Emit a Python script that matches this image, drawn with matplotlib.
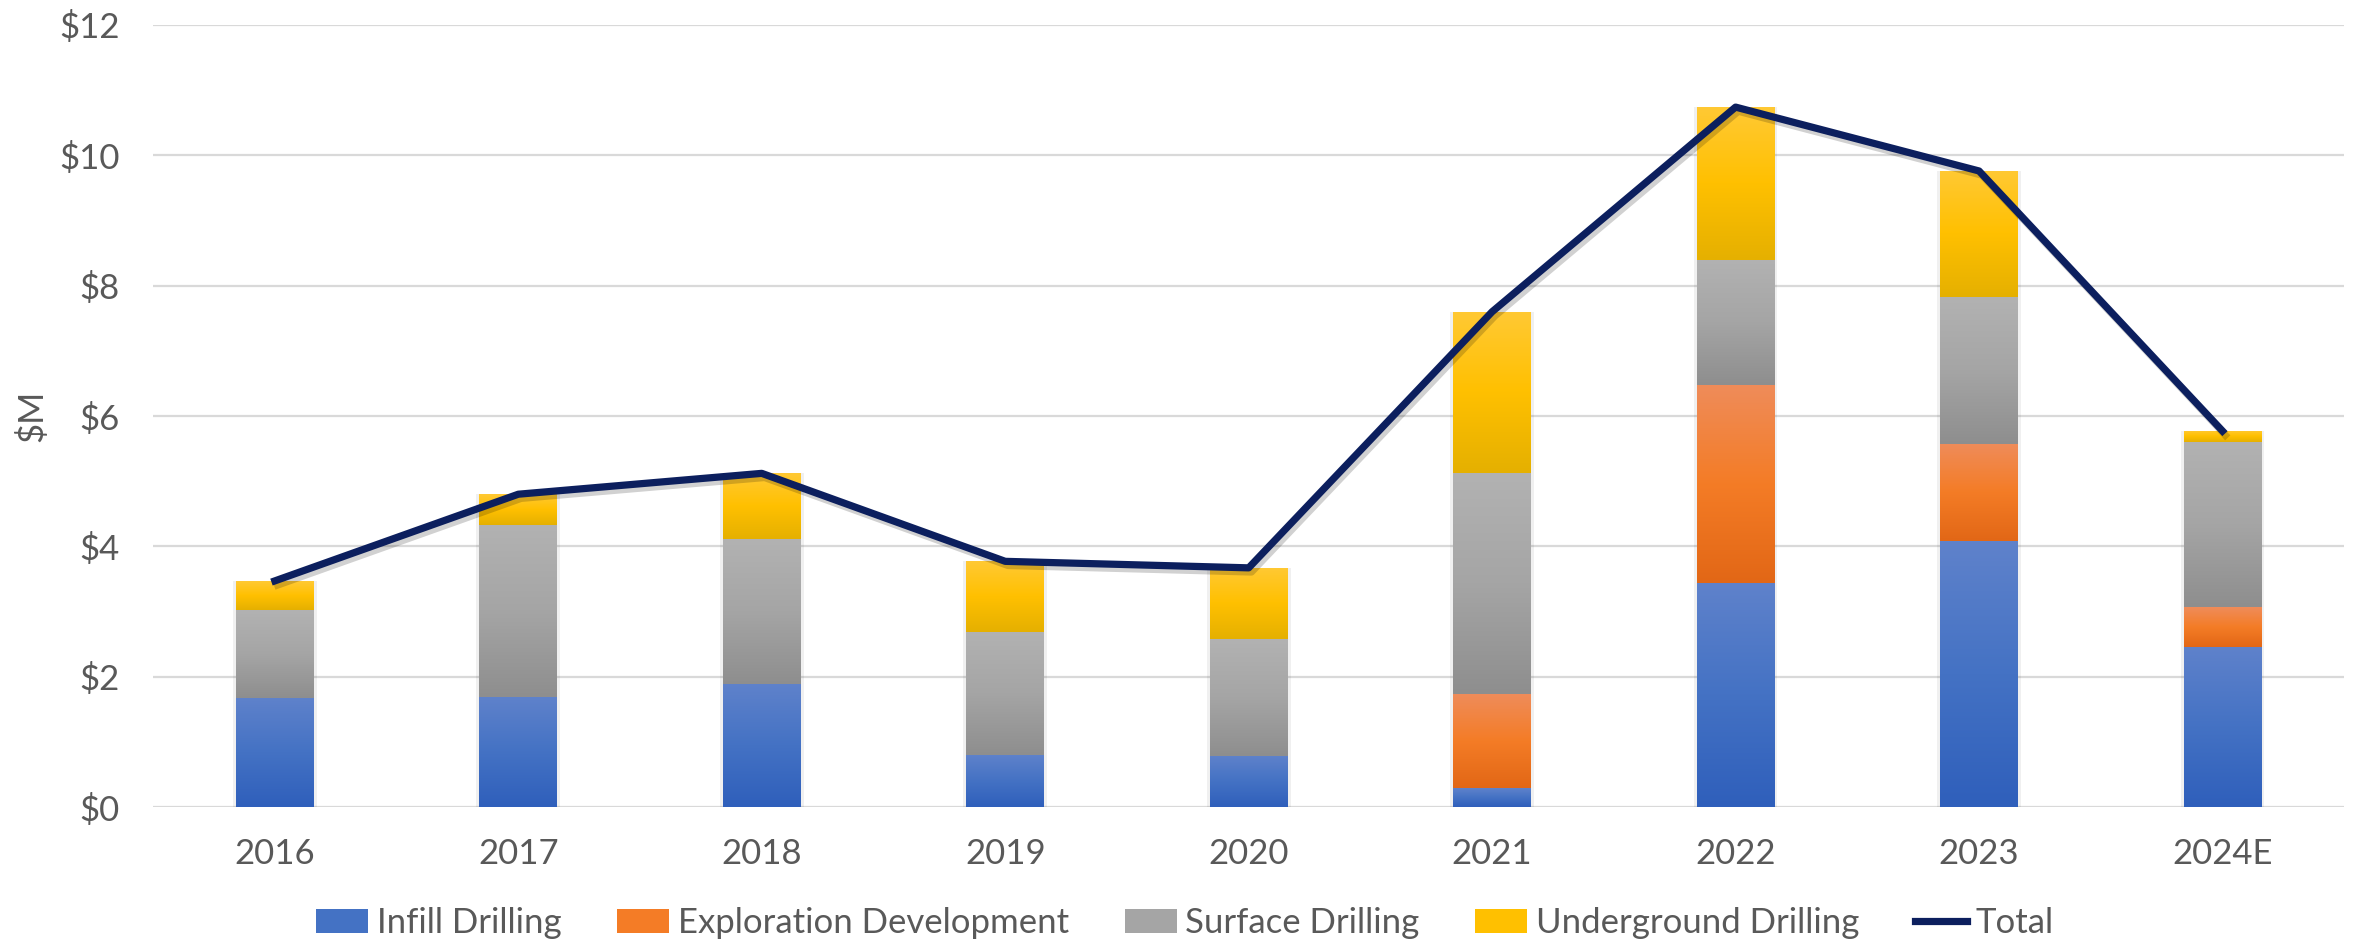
import numpy as np
import matplotlib
matplotlib.use("Agg")
import matplotlib.pyplot as plt
from matplotlib.colors import LinearSegmentedColormap
from matplotlib.patches import Patch
from matplotlib.lines import Line2D
import matplotlib.patheffects as pe

plt.rcParams['font.family'] = ['Lato', 'DejaVu Sans']

# data ($M)
years = ["2016", "2017", "2018", "2019", "2020", "2021", "2022", "2023", "2024E"]
infill = [1.68, 1.69, 1.89, 0.80, 0.79, 0.29, 3.44, 4.08, 2.46]
exploration = [0.00, 0.00, 0.00, 0.00, 0.00, 1.44, 3.04, 1.49, 0.61]
surface = [1.35, 2.64, 2.22, 1.89, 1.79, 3.39, 1.92, 2.25, 2.53]
underground = [0.44, 0.47, 1.01, 1.08, 1.09, 2.48, 2.34, 1.94, 0.17]
total = [3.47, 4.80, 5.12, 3.77, 3.67, 7.60, 10.74, 9.76, 5.77]

series = [
    ("Infill Drilling", infill, ["#5F82CB", "#4472C4", "#2F5FBB"]),
    ("Exploration Development", exploration, ["#EF8C5A", "#F47C26", "#E26716"]),
    ("Surface Drilling", surface, ["#B2B2B2", "#A5A5A5", "#8E8E8E"]),
    ("Underground Drilling", underground, ["#FFC934", "#FFC000", "#E5B000"]),
]

text_col = "#595959"
line_col = "#0C1F5E"

fig = plt.figure(figsize=(23.56, 9.43), dpi=100)
ax = fig.add_axes([0.065, 0.1442, 0.930, 0.8293])

x = np.arange(len(years))
width = 0.32
bottom = np.zeros(len(years))

for name, vals, cols in series:
    vals = np.array(vals)
    bars = ax.bar(x, vals, width, bottom=bottom, color=cols[1], zorder=2,
                  linewidth=0)
    cmap = LinearSegmentedColormap.from_list(name, cols[::-1])
    grad = np.linspace(0, 1, 256).reshape(-1, 1)
    for b in bars:
        if b.get_height() <= 0:
            continue
        x0, y0 = b.get_x(), b.get_y()
        w, h = b.get_width(), b.get_height()
        # soft shadow round the bar
        ax.add_patch(plt.Rectangle((x0 - 0.012, y0), w + 0.024, h,
                                   facecolor="#000000", alpha=0.06,
                                   linewidth=0, zorder=1.5))
        im = ax.imshow(grad, cmap=cmap, origin="lower", aspect="auto",
                       extent=[x0, x0 + w, y0, y0 + h], zorder=2.1)
        im.set_clip_path(b)
    bottom += vals

ax.plot(x, total, color=line_col, linewidth=5.2, zorder=4,
        path_effects=[pe.SimpleLineShadow(offset=(2, -3), alpha=0.18),
                      pe.Normal()])

ax.set_xlim(-0.5, len(years) - 0.5)
ax.set_ylim(0, 12)
ax.set_yticks(range(0, 13, 2))
ax.set_yticklabels([f"${v}" for v in range(0, 13, 2)])
ax.set_xticks(x)
ax.set_xticklabels(years)
ax.tick_params(axis="both", length=0, labelsize=25, colors=text_col)
ax.tick_params(axis="x", pad=22)
ax.tick_params(axis="y", pad=24)
ax.grid(axis="y", color="#D9D9D9", linewidth=1.6, zorder=0)
ax.set_axisbelow(True)
for s in ax.spines.values():
    s.set_visible(False)

ax.set_ylabel("$M", fontsize=25, color=text_col)
ax.yaxis.set_label_coords(-0.048, 0.5)

handles = [Patch(facecolor=c[1], edgecolor="none") for _, _, c in series]
handles.append(Line2D([0], [0], color=line_col, linewidth=5.2))
labels = [n for n, _, _ in series] + ["Total"]
fig.legend(handles, labels, loc="center", bbox_to_anchor=(0.503, 0.021),
           ncol=5, frameon=False, fontsize=25, labelcolor=text_col,
           handlelength=1.5, handleheight=0.65, handletextpad=0.25,
           columnspacing=1.6)

fig.savefig("out.png", dpi=100)
